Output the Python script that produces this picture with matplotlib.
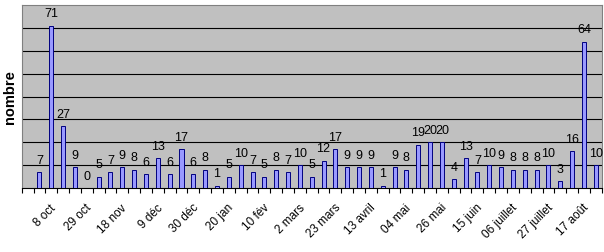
import numpy as np
import matplotlib
matplotlib.use("Agg")
import matplotlib.pyplot as plt
from matplotlib.transforms import ScaledTranslation

plt.rcParams['font.family'] = ['Liberation Sans', 'DejaVu Sans']

# weekly counts (first weekly slot is empty in the original chart)
counts = [None, 7, 71, 27, 9, 0, 5, 7, 9, 8, 6, 13, 6, 17, 6, 8, 1, 5, 10, 7, 5,
          8, 7, 10, 5, 12, 17, 9, 9, 9, 1, 9, 8, 19, 20, 20, 4, 13, 7, 10, 9,
          8, 8, 8, 10, 3, 16, 64, 10]
tick_labels = ["8 oct", "29 oct", "18 nov", "9 déc", "30 déc", "20 jan",
               "10 fév", "2 mars", "23 mars", "13 avril", "04 mai", "26 mai",
               "15 juin", "06 juillet", "27 juillet", "17 août"]
label_every = 3
first_label_slot = 2
y_label = "nombre"

n = len(counts)
x = np.arange(n)
vals = np.array([np.nan if v is None else v for v in counts], dtype=float)

fig = plt.figure(figsize=(6.04, 2.53), dpi=100)
fig.patch.set_facecolor('white')
ax = fig.add_axes([21.7 / 604, 1 - 189 / 253, 580 / 604, 183 / 253])
ax.set_facecolor('#C0C0C0')

ax.bar(x, vals, width=0.34, color='#9999FF', edgecolor='#000080',
       linewidth=0.7, zorder=3)

for xi, v in zip(x, counts):
    if v is None:
        continue
    ax.annotate(str(v), (xi, v), xytext=(0, 4.5), textcoords='offset points',
                ha='center', va='bottom', fontsize=9, color='black', zorder=4)

ax.set_xlim(-0.5, n - 0.5)
ax.set_ylim(0, 80)
ax.set_yticks(np.arange(10, 80, 10))
ax.yaxis.grid(True, color='black', linewidth=0.8, zorder=1)
ax.tick_params(axis='y', length=0, labelleft=False)

pos = list(range(first_label_slot, n, label_every))[:len(tick_labels)]
ax.set_xticks(pos)
ax.set_xticklabels(tick_labels, rotation=45, ha='right', va='center',
                   rotation_mode='anchor', fontsize=8.5)
ax.set_xticks(np.arange(-0.5, n, 1.0), minor=True)
ax.tick_params(axis='x', which='major', length=0, pad=12.5)
ax.tick_params(axis='x', which='minor', length=3.5, width=0.8,
               direction='out', color='black')
offset = ScaledTranslation(3 / 100, 0, fig.dpi_scale_trans)
for lab in ax.get_xticklabels():
    lab.set_transform(lab.get_transform() + offset)

for side in ['top', 'left', 'right']:
    ax.spines[side].set_color('#808080')
    ax.spines[side].set_linewidth(0.8)
ax.spines['bottom'].set_color('black')
ax.spines['bottom'].set_linewidth(0.8)

fig.text(10 / 604, 1 - 97.5 / 253, y_label, rotation=90, ha='center',
         va='center', fontsize=10.5, fontweight='bold')

fig.savefig('out.png', dpi=100, facecolor='white')
